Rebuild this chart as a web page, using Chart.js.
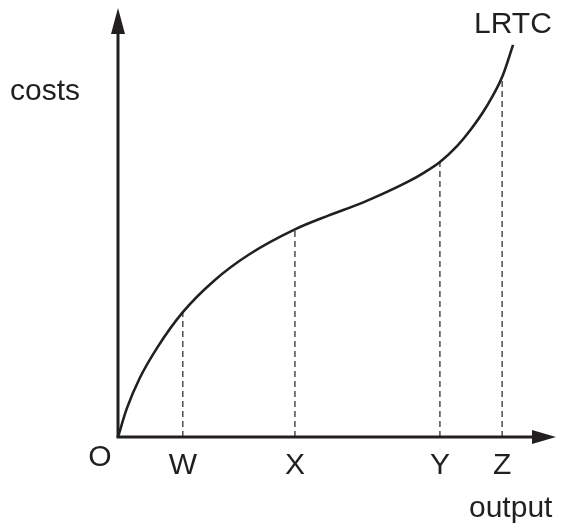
<!DOCTYPE html>
<html lang="en">
<head>
    <meta charset="UTF-8">
    <title>LRTC</title>
    <script src="https://cdn.jsdelivr.net/npm/chart.js"></script>
    <style>
        html,body{margin:0;padding:0;background:#fff}
        #wrap{width:568px;height:528px;position:relative}
    </style>
</head>
<body>
<div id="wrap"><canvas id="chart"></canvas></div>
<script>
// long run total cost curve, output on x, costs on y (0-100 both)
const curveX=[0,2,5,9,14.8,22,30,40.4,48,56,66,70,73.5,77.4,80.5,84,87.7,90.2];
const curveY=[0,6.6,13.8,20.9,29.1,36.5,42.6,48.4,51.6,54.7,59.4,61.7,64.1,67.8,71.6,76.8,83.9,91.4];
const dropLabels=['W','X','Y','Z'];
const dropX=[14.8,40.4,73.5,87.7];
const dropY=[29.1,48.4,64.1,83.9];

const ink='#231f20';
const FONT='30px "Liberation Sans", Arial, sans-serif';

const datasets=[{
    data:curveX.map((x,i)=>({x:x,y:curveY[i]})),
    borderColor:ink,borderWidth:2.6,pointRadius:0,
    cubicInterpolationMode:'monotone',clip:false
}];
dropX.forEach((x,i)=>{
    datasets.push({data:[{x:x,y:0},{x:x,y:dropY[i]}],borderColor:ink,borderWidth:1.2,
        borderDash:[6,4],pointRadius:0,clip:false});
});

const axesPlugin={
    id:'axes',
    beforeDatasetsDraw(chart){
        const c=chart.ctx,xs=chart.scales.x,ys=chart.scales.y;
        const x0=xs.getPixelForValue(0),y0=ys.getPixelForValue(0);
        const top=ys.getPixelForValue(100),right=xs.getPixelForValue(100);
        c.save();
        c.strokeStyle=ink;c.fillStyle=ink;c.lineWidth=3;
        c.beginPath();c.moveTo(x0,y0);c.lineTo(x0,top+20);c.stroke();
        c.beginPath();c.moveTo(x0-1.5,y0);c.lineTo(right-20,y0);c.stroke();
        c.beginPath();c.moveTo(x0,top);c.lineTo(x0-7,top+26);c.lineTo(x0+7,top+26);c.closePath();c.fill();
        c.beginPath();c.moveTo(right,y0);c.lineTo(right-24,y0-7);c.lineTo(right-24,y0+7);c.closePath();c.fill();
        c.restore();
    },
    afterDraw(chart){
        const c=chart.ctx,xs=chart.scales.x,ys=chart.scales.y;
        const y0=ys.getPixelForValue(0),x0=xs.getPixelForValue(0);
        c.save();
        c.fillStyle=ink;c.font=FONT;c.textBaseline='alphabetic';
        c.textAlign='center';
        dropLabels.forEach((l,i)=>c.fillText(l,xs.getPixelForValue(dropX[i]),y0+37));
        c.fillText('O',x0-18,y0+29);
        c.textAlign='left';
        c.fillText('costs',10,100);
        c.fillText('LRTC',474,33);
        c.fillText('output',469,517);
        c.restore();
    }
};

new Chart(document.getElementById('chart'),{
    type:'line',
    data:{datasets:datasets},
    options:{
        responsive:true,maintainAspectRatio:false,animation:false,
        layout:{padding:{left:118,right:12,top:8,bottom:91}},
        plugins:{legend:{display:false},tooltip:{enabled:false}},
        scales:{
            x:{type:'linear',min:0,max:100,display:false},
            y:{type:'linear',min:0,max:100,display:false}
        }
    },
    plugins:[axesPlugin]
});
</script>
</body>
</html>
